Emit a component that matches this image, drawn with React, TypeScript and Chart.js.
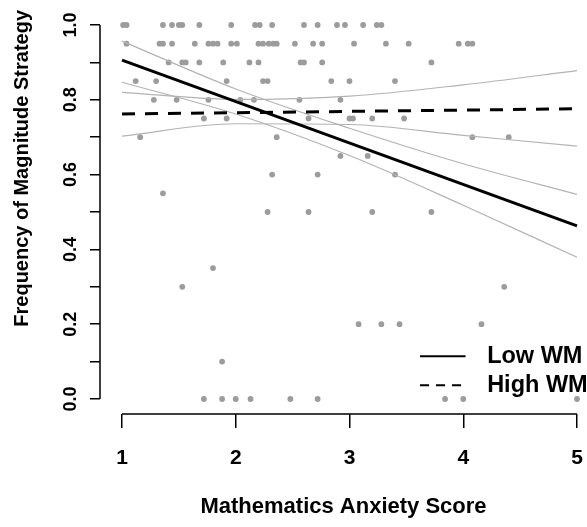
import React, { useEffect, useRef } from "react";
import { Chart, registerables } from "chart.js";

Chart.register(...registerables);

// Scatter data: mathematics anxiety score vs. frequency of magnitude strategy
const anxietyScores = [
  1.01, 1.04, 1.36, 1.44, 1.5, 1.53, 1.68, 1.96, 2.17, 2.21, 2.32, 2.6, 2.72, 2.89, 2.96, 3.12, 3.24, 3.28,
  1.04, 1.33, 1.36, 1.44, 1.64, 1.76, 1.8, 1.84, 1.96, 2.01, 2.2, 2.24, 2.29, 2.33, 2.36, 2.52, 2.68, 2.76, 3.04, 3.32, 3.52, 3.96, 4.04, 4.08,
  1.41, 1.53, 1.56, 1.68, 1.89, 2.12, 2.2, 2.57, 2.6, 2.76, 3.72,
  1.12, 1.3, 1.92, 2.24, 2.28, 2.84, 3.0, 3.4,
  1.28, 1.48, 1.76, 2.04, 2.16, 2.56, 2.92,
  1.72, 1.92, 2.64, 3.0, 3.03, 3.2, 3.48,
  1.16, 2.36, 4.08, 4.4,
  2.92, 3.16,
  2.32, 2.72, 3.4,
  1.36,
  2.28, 2.64, 3.2, 3.72,
  1.8,
  1.53, 4.36,
  3.08, 3.28, 3.44, 4.16,
  1.88,
  1.72, 1.88, 2.0, 2.13, 2.48, 2.72, 3.84, 4.0, 5.0,
];
const strategyFreq = [
  1, 1, 1, 1, 1, 1, 1, 1, 1, 1, 1, 1, 1, 1, 1, 1, 1, 1,
  0.95, 0.95, 0.95, 0.95, 0.95, 0.95, 0.95, 0.95, 0.95, 0.95, 0.95, 0.95, 0.95, 0.95, 0.95, 0.95, 0.95, 0.95, 0.95, 0.95, 0.95, 0.95, 0.95, 0.95,
  0.9, 0.9, 0.9, 0.9, 0.9, 0.9, 0.9, 0.9, 0.9, 0.9, 0.9,
  0.85, 0.85, 0.85, 0.85, 0.85, 0.85, 0.85, 0.85,
  0.8, 0.8, 0.8, 0.8, 0.8, 0.8, 0.8,
  0.75, 0.75, 0.75, 0.75, 0.75, 0.75, 0.75,
  0.7, 0.7, 0.7, 0.7,
  0.65, 0.65,
  0.6, 0.6, 0.6,
  0.55,
  0.5, 0.5, 0.5, 0.5,
  0.35,
  0.3, 0.3,
  0.2, 0.2, 0.2, 0.2,
  0.1,
  0, 0, 0, 0, 0, 0, 0, 0, 0,
];

// Fitted lines
const fitX = [1, 5];
const lowWMFit = [0.906, 0.463];
const highWMFit = [0.762, 0.776];

// Confidence bands
const bandX = [1, 2, 3, 4, 5];
const lowWMUpper = [0.957, 0.829, 0.724, 0.629, 0.547];
const lowWMLower = [0.847, 0.762, 0.651, 0.518, 0.379];
const highWMUpper = [0.82, 0.801, 0.81, 0.84, 0.878];
const highWMLower = [0.703, 0.736, 0.734, 0.705, 0.676];

const xTicks = [1, 2, 3, 4, 5];
const yLabelled = ["0.0", "0.2", "0.4", "0.6", "0.8", "1.0"];
const legendLabels = ["Low WM", "High WM"];

const FONT = "'Liberation Sans', Arial, Helvetica, sans-serif";

const pts = (xs: number[], ys: number[]) => xs.map((x, i) => ({ x, y: ys[i] }));

export default function App() {
  const ref = useRef<HTMLCanvasElement | null>(null);

  useEffect(() => {
    if (!ref.current) return;

    const axisLines = {
      id: "rAxisLines",
      afterDraw(chart: any) {
        const { ctx } = chart;
        const xs = chart.scales.x;
        const ys = chart.scales.y;
        ctx.save();
        ctx.strokeStyle = "#000";
        ctx.lineWidth = 1.5;
        ctx.beginPath();
        ctx.moveTo(xs.getPixelForValue(xTicks[0]), xs.top);
        ctx.lineTo(xs.getPixelForValue(xTicks[xTicks.length - 1]), xs.top);
        ctx.moveTo(ys.right, ys.getPixelForValue(0));
        ctx.lineTo(ys.right, ys.getPixelForValue(1));
        ctx.stroke();

        // legend
        const lx = xs.getPixelForValue(3.62);
        const lx2 = xs.getPixelForValue(4.02);
        const tx = xs.getPixelForValue(4.21);
        const ly1 = ys.getPixelForValue(0.114);
        const ly2 = ys.getPixelForValue(0.037);
        ctx.lineWidth = 2;
        ctx.beginPath();
        ctx.moveTo(lx, ly1);
        ctx.lineTo(lx2, ly1);
        ctx.stroke();
        ctx.setLineDash([9, 7]);
        ctx.beginPath();
        ctx.moveTo(lx, ly2);
        ctx.lineTo(lx2, ly2);
        ctx.stroke();
        ctx.setLineDash([]);
        ctx.fillStyle = "#000";
        ctx.font = `bold 23.5px ${FONT}`;
        ctx.textAlign = "left";
        ctx.textBaseline = "middle";
        ctx.fillText(legendLabels[0], tx, ly1);
        ctx.fillText(legendLabels[1], tx, ly2);
        ctx.restore();
      },
    };

    const chart = new Chart(ref.current, {
      type: "scatter",
      data: {
        datasets: [
          {
            label: legendLabels[0],
            type: "line",
            data: pts(fitX, lowWMFit),
            borderColor: "#000",
            borderWidth: 3,
            pointRadius: 0,
            fill: false,
          },
          {
            label: legendLabels[1],
            type: "line",
            data: pts(fitX, highWMFit),
            borderColor: "#000",
            borderWidth: 3,
            borderDash: [13, 10],
            pointRadius: 0,
            fill: false,
          },
          ...[lowWMUpper, lowWMLower, highWMUpper, highWMLower].map((b, i) => ({
            label: "band" + i,
            type: "line" as const,
            data: pts(bandX, b),
            borderColor: "#b3b3b3",
            borderWidth: 1.2,
            pointRadius: 0,
            cubicInterpolationMode: "monotone" as const,
            fill: false,
          })),
          {
            label: "Participants",
            data: pts(anxietyScores, strategyFreq),
            backgroundColor: "#9c9c9c",
            borderColor: "#9c9c9c",
            pointRadius: 2.9,
            borderWidth: 0,
            clip: false,
          },
        ],
      },
      options: {
        animation: false,
        responsive: false,
        maintainAspectRatio: false,
        layout: { autoPadding: false, padding: { top: 10, right: 0, bottom: 0, left: 0 } },
        plugins: { legend: { display: false }, tooltip: { enabled: false } },
        scales: {
          x: {
            type: "linear",
            min: 0.8066,
            max: 5.0879,
            afterFit: (s: any) => {
              s.height = 113;
              s.paddingLeft = 0;
              s.paddingRight = 0;
            },
            border: { display: false },
            grid: {
              display: true,
              drawOnChartArea: false,
              drawTicks: true,
              tickLength: 14,
              color: "#000",
              lineWidth: 1.5,
            },
            ticks: {
              stepSize: 1,
              includeBounds: false,
              autoSkip: false,
              maxRotation: 0,
              padding: 18,
              color: "#000",
              font: { family: FONT, size: 21, weight: "bold" },
              callback: (v: any) => String(v),
            },
            title: {
              display: true,
              text: "Mathematics Anxiety Score",
              color: "#000",
              font: { family: FONT, size: 22, weight: "bold" },
              padding: { top: 0, bottom: 7 },
            },
          },
          y: {
            type: "linear",
            min: -0.0401,
            max: 1.0401,
            afterFit: (s: any) => {
              s.width = 100;
              s.paddingTop = 0;
              s.paddingBottom = 0;
            },
            border: { display: false },
            grid: {
              display: true,
              drawOnChartArea: false,
              drawTicks: true,
              tickLength: 10,
              color: "#000",
              lineWidth: 1.5,
            },
            ticks: {
              stepSize: 0.1,
              includeBounds: false,
              autoSkip: false,
              minRotation: 90,
              maxRotation: 90,
              crossAlign: "center",
              padding: 6,
              color: "#000",
              font: { family: FONT, size: 18, weight: "bold" },
              callback: (v: any) => {
                const s = Number(v).toFixed(1);
                return yLabelled.includes(s) ? s : "";
              },
            },
            title: {
              display: true,
              text: "Frequency of Magnitude Strategy",
              align: "end",
              color: "#000",
              font: { family: FONT, size: 20, weight: "bold" },
              padding: { top: 10, bottom: 0 },
            },
          },
        },
      },
      plugins: [axisLines],
    } as any);

    return () => chart.destroy();
  }, []);

  return (
    <div style={{ position: "fixed", left: 0, top: 0, width: 587, height: 527, background: "#fff" }}>
      <canvas ref={ref} width={587} height={527} />
    </div>
  );
}
